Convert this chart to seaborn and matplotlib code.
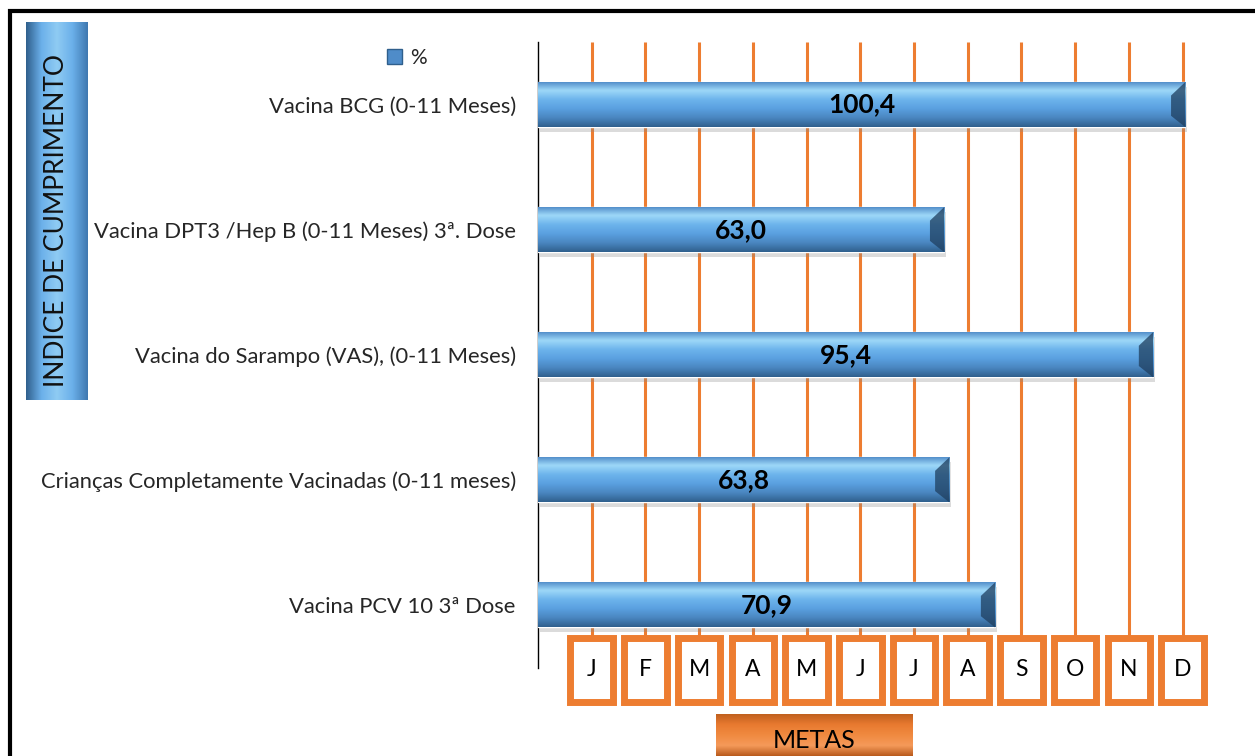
import matplotlib.pyplot as plt
import matplotlib.patches as mpatches
import matplotlib.transforms as mtransforms
from matplotlib.colors import LinearSegmentedColormap
import numpy as np
import seaborn as sns

# Data
categories = [
    'Vacina BCG (0-11 Meses)',
    'Vacina DPT3 /Hep B (0-11 Meses) 3ª. Dose',
    'Vacina do Sarampo (VAS), (0-11 Meses)',
    'Crianças Completamente Vacinadas (0-11 meses)',
    'Vacina PCV 10 3ª Dose',
]
values = [100.4, 63.0, 95.4, 63.8, 70.9]
months = ['J', 'F', 'M', 'A', 'M', 'J', 'J', 'A', 'S', 'O', 'N', 'D']
series_name = '%'

ORANGE = '#ED7D31'
BLUE = '#5B9BD5'

sns.set_style('white')
plt.rcParams['font.family'] = ['Lato', 'DejaVu Sans']

W, H = 1255, 756
fig = plt.figure(figsize=(W / 100, H / 100), dpi=100)
ax = fig.add_axes([538 / W, 1 - 667.5 / H, (1202 - 538) / W, (667.5 - 42) / H])

sns.barplot(x=values, y=categories, orient='h', color=BLUE, width=0.36,
            ax=ax, zorder=3)

# 3D-ish gradient on bars
bar_cmap = LinearSegmentedColormap.from_list(
    'bar', ['#4A86C5', '#9ED8F8', '#6DB4EC', '#5AA0E0', '#4A86C0', '#2F5F8C'])
grad = np.linspace(0, 1, 256).reshape(-1, 1)
for p in list(ax.patches):
    x0, y0 = p.get_x(), p.get_y()
    w, h = p.get_width(), p.get_height()
    # soft shadow
    sh = mpatches.Rectangle((x0 + 0.3, y0 + 0.04), w, h, color='#888888',
                            alpha=0.3, zorder=2, lw=0)
    ax.add_patch(sh)
    im = ax.imshow(grad, cmap=bar_cmap, aspect='auto', zorder=4,
                   extent=(x0, x0 + w, y0 + h, y0), interpolation='bicubic')
    im.set_clip_path(p)
    # bevel at the right end
    bev = mpatches.Polygon([(x0 + w - 2.2, y0 + h * 0.3), (x0 + w, y0),
                            (x0 + w, y0 + h), (x0 + w - 2.2, y0 + h * 0.75)],
                           closed=True, color='#1F3F5F', alpha=0.75, lw=0, zorder=5)
    ax.add_patch(bev)

ax.bar_label(ax.containers[0],
             labels=[f'{v:.1f}'.replace('.', ',') for v in values],
             label_type='center', fontsize=19, fontweight='bold', color='black',
             zorder=6)
for t in ax.texts:
    t.set_zorder(7)

# month lines
month_pos = [100 * (k + 1) / 12 for k in range(12)]
ax.vlines(month_pos, -0.5, 4.3, colors=ORANGE, lw=2.2, zorder=1)

ax.set_xlim(0, 103)
ax.set_ylim(4.5, -0.5)
ax.set_xticks([])
ax.set_xlabel('')
ax.tick_params(axis='y', length=0, pad=16, labelsize=15.8)
for s in ['top', 'right', 'bottom']:
    ax.spines[s].set_visible(False)
ax.spines['left'].set_color('black')
ax.spines['left'].set_linewidth(1.0)

# month boxes
trans = mtransforms.blended_transform_factory(ax.transData, fig.transFigure)
bw = 6.6
for xm, lab in zip(month_pos, months):
    r = mpatches.Rectangle((xm - bw / 2, 1 - 702 / H), bw, 64 / H,
                           transform=trans, facecolor='white', edgecolor=ORANGE,
                           lw=5, clip_on=False, zorder=8)
    ax.add_patch(r)
    ax.text(xm, 1 - 670 / H, lab, transform=trans, ha='center', va='center',
            fontsize=16.5, color='black', zorder=9, clip_on=False)

# legend
handle = mpatches.Patch(facecolor='#4F8CC9', edgecolor='#2F5F8C')
fig.legend([handle], [series_name], loc='center',
           bbox_to_anchor=(407 / W, 1 - 58 / H), frameon=False,
           handlelength=0.7, handleheight=0.7, handletextpad=0.4, fontsize=15)

# left vertical title box
bax = fig.add_axes([26 / W, 1 - 400 / H, 62 / W, 378 / H])
hgrad = np.linspace(0, 1, 256).reshape(1, -1)
box_cmap = LinearSegmentedColormap.from_list(
    'box', ['#2F5F8C', '#6BB0EA', '#8FCBF3', '#6BB0EA', '#3F78B0'])
bax.imshow(hgrad, cmap=box_cmap, aspect='auto', extent=(0, 1, 0, 1))
bax.set_xlim(0, 1)
bax.set_ylim(0, 1)
bax.axis('off')
bax.text(0.5, 0.475, 'INDICE DE CUMPRIMENTO', rotation=90, ha='center',
         va='center', fontsize=19, color='#111111')

# METAS box
max_ = fig.add_axes([716 / W, 0, 197 / W, 42 / H])
mgrad = np.linspace(0, 1, 256).reshape(-1, 1)
m_cmap = LinearSegmentedColormap.from_list(
    'metas', ['#B85A1C', '#F59A5A', '#F08A40', '#E87A30', '#C0601E'])
max_.imshow(mgrad, cmap=m_cmap, aspect='auto', extent=(0, 1, 1, 0))
max_.set_xlim(0, 1)
max_.set_ylim(0, 1)
max_.axis('off')
max_.text(0.5, 0.38, 'METAS', ha='center', va='center', fontsize=18,
          color='black')

# outer frame
frame = mpatches.Rectangle((9.5 / W, -0.05), 1.2, 1 - 11 / H + 0.05,
                           transform=fig.transFigure, fill=False,
                           edgecolor='black', lw=3, clip_on=False)
fig.patches.append(frame)

fig.savefig('out.png', dpi=100)
